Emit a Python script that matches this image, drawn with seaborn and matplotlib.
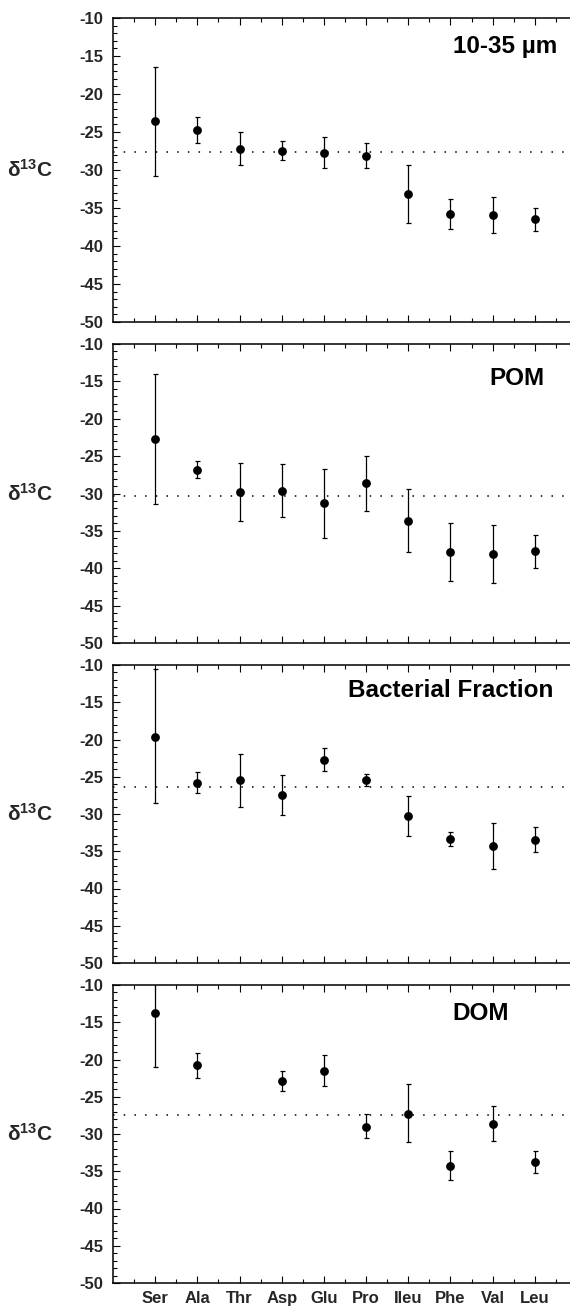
import numpy as np
import pandas as pd
import matplotlib
matplotlib.use("Agg")
import matplotlib.pyplot as plt
import seaborn as sns
from matplotlib.ticker import MultipleLocator, FixedLocator

# ---------------- data ----------------
amino_acids = ["Ser", "Ala", "Thr", "Asp", "Glu", "Pro", "Ileu", "Phe", "Val", "Leu"]
panel_names = ["10-35 \u00b5m", "POM", "Bacterial Fraction", "DOM"]

mean_1035 = [-23.6, -24.8, -27.2, -27.5, -27.8, -28.1, -33.2, -35.8, -35.9, -36.5]
low_1035 = [-30.8, -26.5, -29.4, -28.7, -29.8, -29.8, -37.0, -37.8, -38.3, -38.0]
high_1035 = [-16.5, -23.0, -25.0, -26.2, -25.7, -26.5, -29.3, -33.8, -33.6, -35.0]

mean_pom = [-22.65, -26.8, -29.8, -29.6, -31.3, -28.6, -33.65, -37.8, -38.15, -37.75]
low_pom = [-31.4, -27.9, -33.65, -33.1, -35.9, -32.4, -37.8, -41.7, -42.0, -39.9]
high_pom = [-14.0, -25.6, -25.9, -26.0, -26.7, -25.0, -29.4, -34.0, -34.2, -35.6]

mean_bact = [-19.6, -25.8, -25.5, -27.45, -22.7, -25.5, -30.3, -33.4, -34.3, -33.5]
low_bact = [-28.5, -27.2, -29.1, -30.2, -24.2, -26.3, -32.95, -34.3, -37.4, -35.1]
high_bact = [-10.6, -24.3, -22.0, -24.8, -21.1, -24.6, -27.6, -32.4, -31.25, -31.8]

mean_dom = [-13.7, -20.8, np.nan, -22.9, -21.5, -29.0, -27.3, -34.3, -28.6, -33.8]
low_dom = [-21.0, -22.5, np.nan, -24.2, -23.6, -30.6, -31.05, -36.2, -31.0, -35.3]
high_dom = [-6.4, -19.1, np.nan, -21.6, -19.45, -27.3, -23.35, -32.3, -26.2, -32.3]

bulk_ref = [-27.6, -30.4, -26.4, -27.5]

means = [mean_1035, mean_pom, mean_bact, mean_dom]
lows = [low_1035, low_pom, low_bact, low_dom]
highs = [high_1035, high_pom, high_bact, high_dom]

# ---------------- style ----------------
sns.set_theme(style="ticks")
plt.rcParams["font.family"] = ["Liberation Sans", "DejaVu Sans"]
plt.rcParams["font.weight"] = "bold"
plt.rcParams["mathtext.fontset"] = "custom"
plt.rcParams["mathtext.rm"] = "Liberation Sans:bold"
plt.rcParams["mathtext.bf"] = "Liberation Sans:bold"
plt.rcParams["mathtext.it"] = "Liberation Sans:bold"

W, H = 570, 1312
fig = plt.figure(figsize=(W / 100, H / 100), dpi=100)
fig.patch.set_facecolor("white")

left_px, right_px = 113, 577
tops_px = [18, 344, 665, 985]
bottoms_px = [322, 643, 963, 1283]
title_xy = [(10.54, -14.65), (10.24, -15.5), (10.45, -14.35), (9.39, -14.7)]

for i in range(4):
    ax = fig.add_axes([left_px / W, 1 - bottoms_px[i] / H,
                       (right_px - left_px) / W, (bottoms_px[i] - tops_px[i]) / H])
    df = pd.DataFrame({
        "aa": amino_acids,
        "pos": np.arange(1, len(amino_acids) + 1),
        "mean": means[i],
        "low": lows[i],
        "high": highs[i],
    }).dropna()

    ax.axhline(bulk_ref[i], color="black", lw=1.1, ls=(0, (1, 6)), zorder=1)
    ax.errorbar(df["pos"], df["mean"],
                yerr=[df["mean"] - df["low"], df["high"] - df["mean"]],
                fmt="none", ecolor="black", elinewidth=0.9, capsize=1.8,
                capthick=0.9, zorder=2)
    sns.scatterplot(data=df, x="pos", y="mean", ax=ax, color="black",
                    s=40, edgecolor="black", linewidth=0, zorder=3, legend=False)

    ax.set_xlim(0, 11)
    ax.set_ylim(-50, -10)
    ax.xaxis.set_major_locator(FixedLocator(np.arange(1, 11)))
    ax.xaxis.set_minor_locator(FixedLocator(np.arange(0.5, 11, 1.0)))
    ax.yaxis.set_major_locator(MultipleLocator(5))
    ax.yaxis.set_minor_locator(MultipleLocator(1))
    ax.tick_params(which="both", direction="in", top=True, right=True,
                   color="black", width=0.8)
    ax.tick_params(which="major", length=5)
    ax.tick_params(which="minor", length=3)
    ax.tick_params(axis="y", which="major", labelsize=12, pad=7)
    ax.set_yticks(np.arange(-50, -9, 5))
    ax.set_yticklabels([f"{v:d}" for v in np.arange(-50, -9, 5)],
                       fontweight="bold", fontsize=12)
    if i == 3:
        ax.set_xticklabels(amino_acids, fontweight="bold", fontsize=12)
        ax.tick_params(axis="x", which="major", pad=6)
    else:
        ax.set_xticklabels([])
    ax.set_xlabel("")
    ax.set_ylabel("\u03b4$^{13}$C", rotation=0, fontsize=15, fontweight="bold",
                  ha="center", va="center")
    ax.yaxis.set_label_coords(-0.179, 0.5)
    for sp in ax.spines.values():
        sp.set_color("black")
        sp.set_linewidth(1.1)
    ax.text(title_xy[i][0], title_xy[i][1], panel_names[i], ha="right",
            va="baseline", fontsize=17.5, fontweight="bold", color="black")

fig.savefig("out.png", dpi=100, facecolor="white")
